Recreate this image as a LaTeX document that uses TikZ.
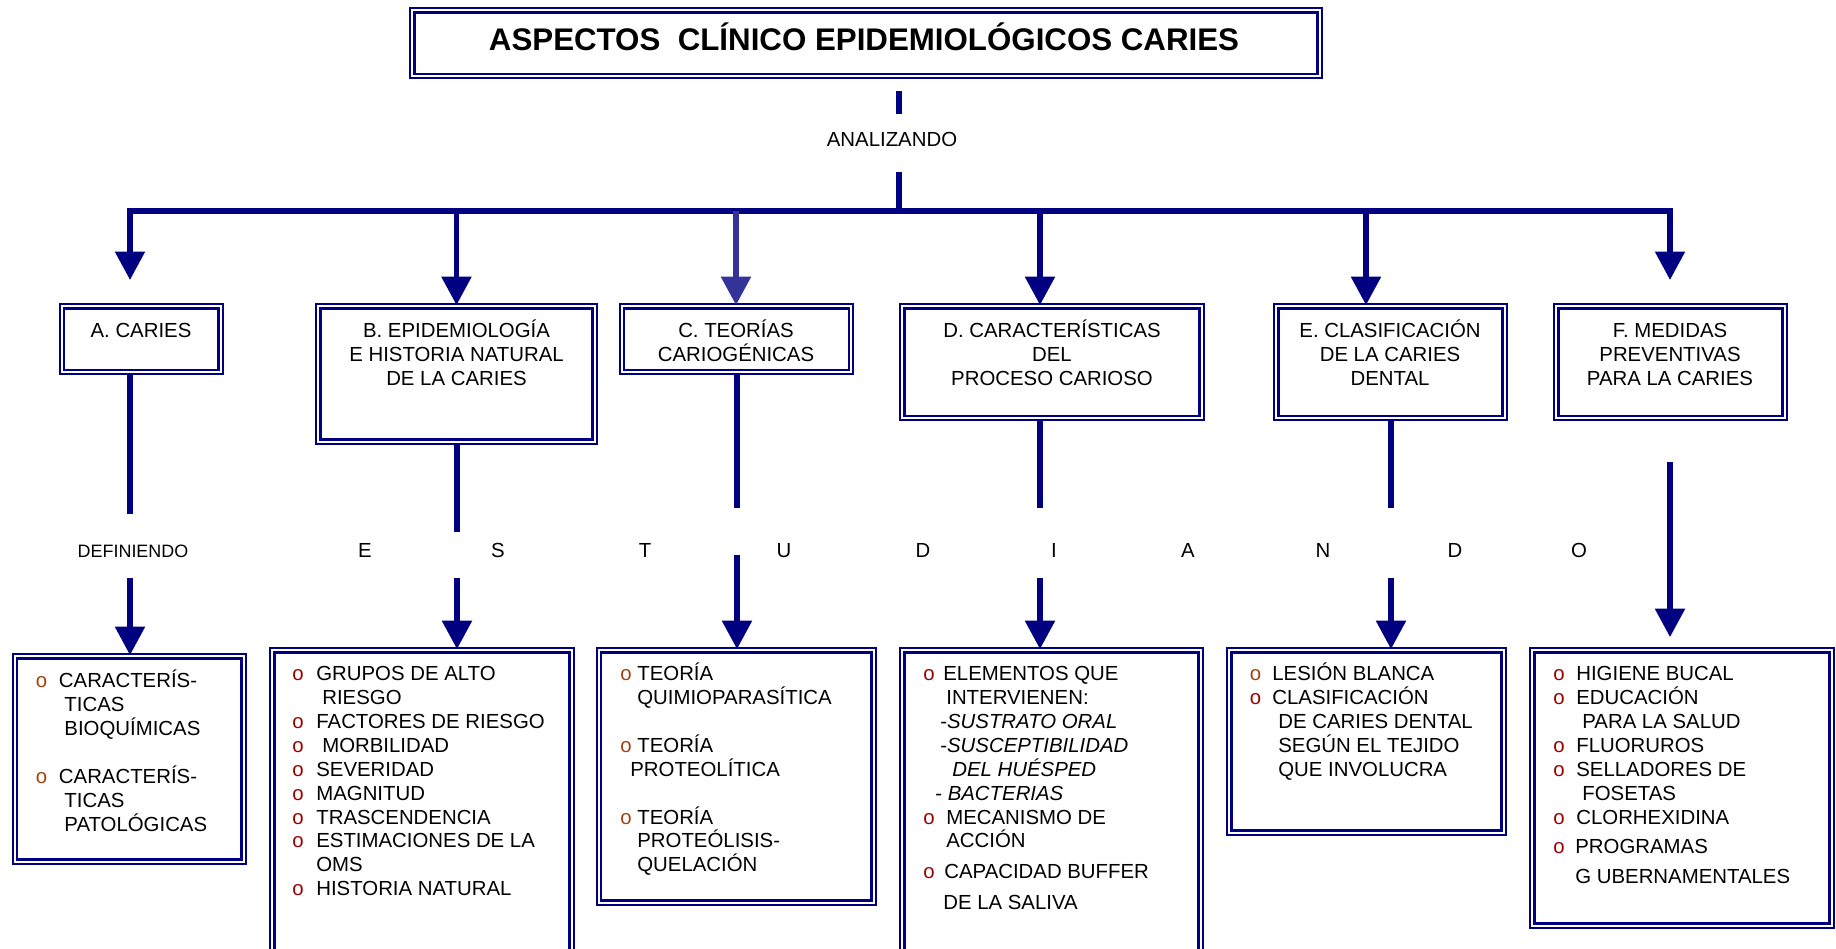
\documentclass[tikz,border=0pt]{standalone}
\usepackage{fontspec}
\setmainfont{Liberation Sans}
\usetikzlibrary{arrows.meta}

\definecolor{navyline}{HTML}{000080}
\definecolor{lightnavy}{HTML}{333399}
\definecolor{bulbrown}{HTML}{A0420E}
\definecolor{bulred}{HTML}{990000}

\newcommand{\boxfont}{\fontsize{11.6}{13.6}\selectfont}
\newcommand{\titlefont}{\fontsize{17.8}{20}\selectfont\bfseries}
\newcommand{\smallfont}{\fontsize{10.2}{12}\selectfont}
\newcommand{\bo}[2]{\makebox[#2][l]{\textcolor{#1}{o}}}
\newcommand{\tstrut}{\rule{0pt}{12pt}}

\tikzset{
  dbox/.style={draw=navyline, double, double distance=1.1pt, line width=1.3pt, inner sep=0pt},
  ln/.style={draw=navyline, line width=0.11cm},
  arr/.style={ln, -{Triangle[length=0.57cm, width=0.58cm]}},
  headtext/.style={font=\boxfont, align=center, anchor=north, inner sep=0pt},
  listtext/.style={font=\boxfont, align=left, anchor=north west, inner sep=0pt},
  word/.style={font=\boxfont, anchor=base, inner sep=0pt}
}

\begin{document}
\begin{tikzpicture}[x=0.02cm, y=-0.02cm]
        \useasboundingbox (0,0) rectangle (1836,948);
        \clip (0,0) rectangle (1836,948);

        \node[dbox, minimum width=18.15cm, minimum height=1.31cm] (titlebox) at (866,43) {};
        \node[anchor=base, inner sep=0pt, font=\titlefont] (title) at (864,50.5) {ASPECTOS\ \ CLÍNICO EPIDEMIOLÓGICOS CARIES};

        \node[word] (analiz) at (892,146.3) {ANALIZANDO};
        \coordinate (top1) at (899,91);
        \coordinate (top2) at (899,114);
        \coordinate (top3) at (899,172);
        \coordinate (hub) at (899,211);
        \draw[ln] (top1) -- (top2);
        \draw[ln] (top3) -- (hub);

        % cajas de arriba
        \node[dbox, minimum width=3.18cm, minimum height=1.31cm] (boxA) at (141.25,339) {};
        \node[dbox, minimum width=5.53cm, minimum height=2.71cm] (boxB) at (456.5,374) {};
        \node[dbox, minimum width=4.58cm, minimum height=1.31cm] (boxC) at (736.3,339) {};
        \node[dbox, minimum width=5.99cm, minimum height=2.23cm] (boxD) at (1052,362) {};
        \node[dbox, minimum width=4.57cm, minimum height=2.23cm] (boxE) at (1390.5,362) {};
        \node[dbox, minimum width=4.57cm, minimum height=2.23cm] (boxF) at (1670.5,362) {};

        \node[headtext] (tA) at (141,316.2) {\tstrut A. CARIES};
        \node[headtext] (tB) at (456.5,316.2) {\tstrut B. EPIDEMIOLOGÍA\\ E HISTORIA NATURAL\\ DE LA CARIES};
        \node[headtext] (tC) at (736,316.2) {\tstrut C. TEORÍAS\\ CARIOGÉNICAS};
        \node[headtext] (tD) at (1052,316.2) {\tstrut D. CARACTERÍSTICAS\\ DEL\\ PROCESO CARIOSO};
        \node[headtext] (tE) at (1390,316.2) {\tstrut E. CLASIFICACIÓN\\ DE LA CARIES\\ DENTAL};
        \node[headtext] (tF) at (1670,316.2) {\tstrut F. MEDIDAS\\ PREVENTIVAS\\ PARA LA CARIES};

        \coordinate (barA) at (130,211);
        \coordinate (barB) at (456.5,211);
        \coordinate (barC) at (736,211);
        \coordinate (barD) at (1040,211);
        \coordinate (barE) at (1366,211);
        \coordinate (barF) at (1670,211);
        \coordinate (tipA) at (130,280);
        \coordinate (tipF) at (1670,280);

        \draw[arr] (hub) -- (barA) -- (tipA);
        \draw[arr] (hub) -- (barF) -- (tipF);
        \draw[arr] (barB) -- (barB |- boxB.north);
        \draw[arr, draw=lightnavy, fill=lightnavy] (barC) -- (barC |- boxC.north);
        \draw[arr] (barD) -- (barD |- boxD.north);
        \draw[arr] (barE) -- (barE |- boxE.north);

        % fila del medio
        \node[word, font=\smallfont] (defi) at (133,557) {DEFINIENDO};
        \node[word] (l1) at (365,557.8) {E};
        \node[word] (l2) at (498,557.8) {S};
        \node[word] (l3) at (645,557.8) {T};
        \node[word] (l4) at (784,557.8) {U};
        \node[word] (l5) at (923,557.8) {D};
        \node[word] (l6) at (1054,557.8) {I};
        \node[word] (l7) at (1188,557.8) {A};
        \node[word] (l8) at (1323,557.8) {N};
        \node[word] (l9) at (1455,557.8) {D};
        \node[word] (l10) at (1579,557.8) {O};

        % cajas de abajo
        \node[dbox, minimum width=4.58cm, minimum height=4.11cm] (boxA2) at (129.25,759) {};
        \node[dbox, minimum width=5.99cm, minimum height=6.43cm] (boxB2) at (422,811) {};
        \node[dbox, minimum width=5.5cm, minimum height=5.05cm] (boxC2) at (736.25,776.5) {};
        \node[dbox, minimum width=5.97cm, minimum height=6.43cm] (boxD2) at (1051.5,811) {};
        \node[dbox, minimum width=5.49cm, minimum height=3.65cm] (boxE2) at (1366.5,741.5) {};
        \node[dbox, minimum width=5.99cm, minimum height=5.51cm] (boxF2) at (1682,788) {};

        \coordinate (midA1) at (130,514);
        \coordinate (midA2) at (130,578);
        \coordinate (midB1) at (457,532);
        \coordinate (midB2) at (457,578);
        \coordinate (midC1) at (737,508);
        \coordinate (midC2) at (737,555);
        \coordinate (midD1) at (1040,508);
        \coordinate (midD2) at (1040,578);
        \coordinate (midE1) at (1391,508);
        \coordinate (midE2) at (1391,578);
        \coordinate (midF) at (1670,462);

        \draw[ln] (midA1 |- boxA.south) -- (midA1);
        \draw[ln] (midB1 |- boxB.south) -- (midB1);
        \draw[ln] (midC1 |- boxC.south) -- (midC1);
        \draw[ln] (midD1 |- boxD.south) -- (midD1);
        \draw[ln] (midE1 |- boxE.south) -- (midE1);
        \draw[arr] (midA2) -- (midA2 |- boxA2.north);
        \draw[arr] (midB2) -- (midB2 |- boxB2.north);
        \draw[arr] (midC2) -- (midC2 |- boxC2.north);
        \draw[arr] (midD2) -- (midD2 |- boxD2.north);
        \draw[arr] (midE2) -- (midE2 |- boxE2.north);
        \draw[arr, shorten >=0.24cm] (midF) -- (midF |- boxF2.north);

        \node[listtext] (lA) at (35.6,666.2) {\tstrut\bo{bulbrown}{0.46cm}CARACTERÍS-\\
          \hspace*{0.57cm}TICAS\\
          \hspace*{0.57cm}BIOQUÍMICAS\\[13.6pt]
          \bo{bulbrown}{0.46cm}CARACTERÍS-\\
          \hspace*{0.57cm}TICAS\\
          \hspace*{0.57cm}PATOLÓGICAS};
        \node[listtext] (lB) at (292,659.2) {\tstrut\bo{bulred}{0.48cm}GRUPOS DE ALTO\\
          \hspace*{0.6cm}RIESGO\\
          \bo{bulred}{0.48cm}FACTORES DE RIESGO\\
          \bo{bulred}{0.6cm}MORBILIDAD\\
          \bo{bulred}{0.48cm}SEVERIDAD\\
          \bo{bulred}{0.48cm}MAGNITUD\\
          \bo{bulred}{0.48cm}TRASCENDENCIA\\
          \bo{bulred}{0.48cm}ESTIMACIONES DE LA\\
          \hspace*{0.48cm}OMS\\
          \bo{bulred}{0.48cm}HISTORIA NATURAL};
        \node[listtext] (lC) at (620,659.2) {\tstrut\bo{bulbrown}{0.34cm}TEORÍA\\
          \hspace*{0.34cm}QUIMIOPARASÍTICA\\[13.6pt]
          \bo{bulbrown}{0.34cm}TEORÍA\\
          \hspace*{0.2cm}PROTEOLÍTICA\\[13.6pt]
          \bo{bulbrown}{0.34cm}TEORÍA\\
          \hspace*{0.34cm}PROTEÓLISIS-\\
          \hspace*{0.34cm}QUELACIÓN};
        \node[listtext] (lD) at (923,659.2) {\tstrut\bo{bulred}{0.4cm}ELEMENTOS QUE\\
          \hspace*{0.46cm}INTERVIENEN:\\
          \hspace*{0.34cm}-\textit{SUSTRATO ORAL}\\
          \hspace*{0.34cm}-\textit{SUSCEPTIBILIDAD}\\
          \hspace*{0.58cm}\textit{DEL HUÉSPED}\\
          \hspace*{0.24cm}- \textit{BACTERIAS}\\
          \bo{bulred}{0.46cm}MECANISMO DE\\
          \hspace*{0.46cm}ACCIÓN\\[4pt]
          \bo{bulred}{0.42cm}CAPACIDAD BUFFER\\[4pt]
          \hspace*{0.4cm}DE LA SALIVA};
        \node[listtext] (lE) at (1249.5,659.2) {\tstrut\bo{bulbrown}{0.45cm}LESIÓN BLANCA\\
          \bo{bulred}{0.45cm}CLASIFICACIÓN\\
          \hspace*{0.57cm}DE CARIES DENTAL\\
          \hspace*{0.57cm}SEGÚN EL TEJIDO\\
          \hspace*{0.57cm}QUE INVOLUCRA};
        \node[listtext] (lF) at (1553,659.2) {\tstrut\bo{bulred}{0.46cm}HIGIENE BUCAL\\
          \bo{bulred}{0.46cm}EDUCACIÓN\\
          \hspace*{0.58cm}PARA LA SALUD\\
          \bo{bulred}{0.46cm}FLUORUROS\\
          \bo{bulred}{0.46cm}SELLADORES DE\\
          \hspace*{0.58cm}FOSETAS\\
          \bo{bulred}{0.46cm}CLORHEXIDINA\\[3.4pt]
          \bo{bulred}{0.44cm}PROGRAMAS\\[3.4pt]
          \hspace*{0.44cm}G UBERNAMENTALES};
    \end{tikzpicture}
\end{document}
